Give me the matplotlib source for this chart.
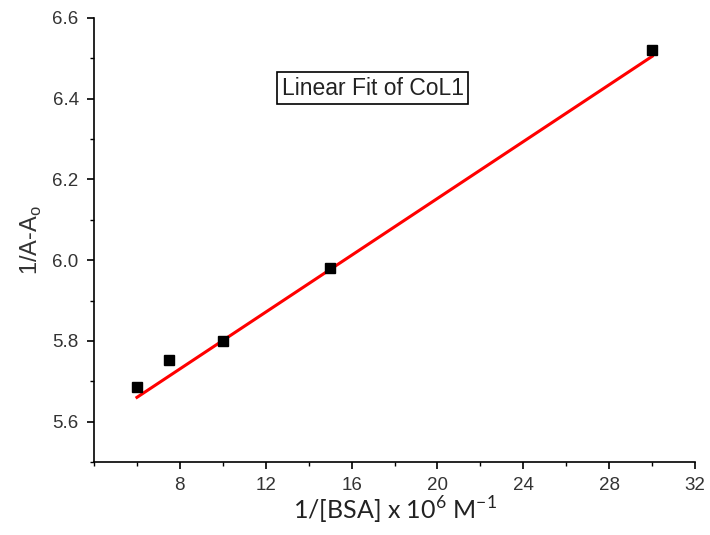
import numpy as np
import matplotlib.pyplot as plt
from matplotlib.ticker import MultipleLocator

# Datos
x_bsa = [6, 7.5, 10, 15, 30]
y_inv = [5.685, 5.752, 5.80, 5.98, 6.52]

# Ajuste lineal (pendiente, intercepto)
fit_slope = 0.0352
fit_intercept = 5.449

x_ticks = [8, 12, 16, 20, 24, 28, 32]
y_ticks = [5.6, 5.8, 6.0, 6.2, 6.4, 6.6]

plt.rcParams['font.family'] = ['Liberation Sans', 'DejaVu Sans']

fig = plt.figure(figsize=(7.1, 5.35), dpi=100)
ax = fig.add_axes([0.1324, 0.1364, 0.8466, 0.83])

xf = np.array([min(x_bsa), max(x_bsa)])
ax.plot(xf, fit_slope * xf + fit_intercept, color="red", linewidth=2.2, zorder=2)
ax.plot(x_bsa, y_inv, linestyle="none", marker="s", markersize=7,
        color="black", zorder=3)

ax.set_xlim(4, 32)
ax.set_ylim(5.5, 6.6)
ax.set_xticks(x_ticks)
ax.set_yticks(y_ticks)
ax.xaxis.set_minor_locator(MultipleLocator(2))
ax.yaxis.set_minor_locator(MultipleLocator(0.1))
ax.set_yticklabels([f"{v:.1f}" for v in y_ticks])

for s in ["top", "right"]:
    ax.spines[s].set_visible(False)
for s in ["left", "bottom"]:
    ax.spines[s].set_linewidth(1.2)

ax.tick_params(which="major", direction="out", length=5, width=1.2,
               labelsize=13.5, labelcolor="#333333", pad=6)
ax.tick_params(which="minor", direction="out", length=3, width=1.0)

ax.set_ylabel("1/A-A$_\\mathregular{o}$", fontsize=17, color="#333333", labelpad=6)
ax.set_xlabel("1/[BSA] x 10$^\\mathregular{6}$ M$^\\mathregular{-1}$", fontsize=18,
              color="#222222", family=["Lato", "DejaVu Sans"], labelpad=0)

ax.text(0.464, 0.842, "Linear Fit of CoL1", transform=ax.transAxes,
        fontsize=16.5, color="#222222", ha="center", va="center",
        bbox=dict(boxstyle="square,pad=0.2", facecolor="white",
                  edgecolor="black", linewidth=1.2))

fig.savefig("out.png", dpi=100)
